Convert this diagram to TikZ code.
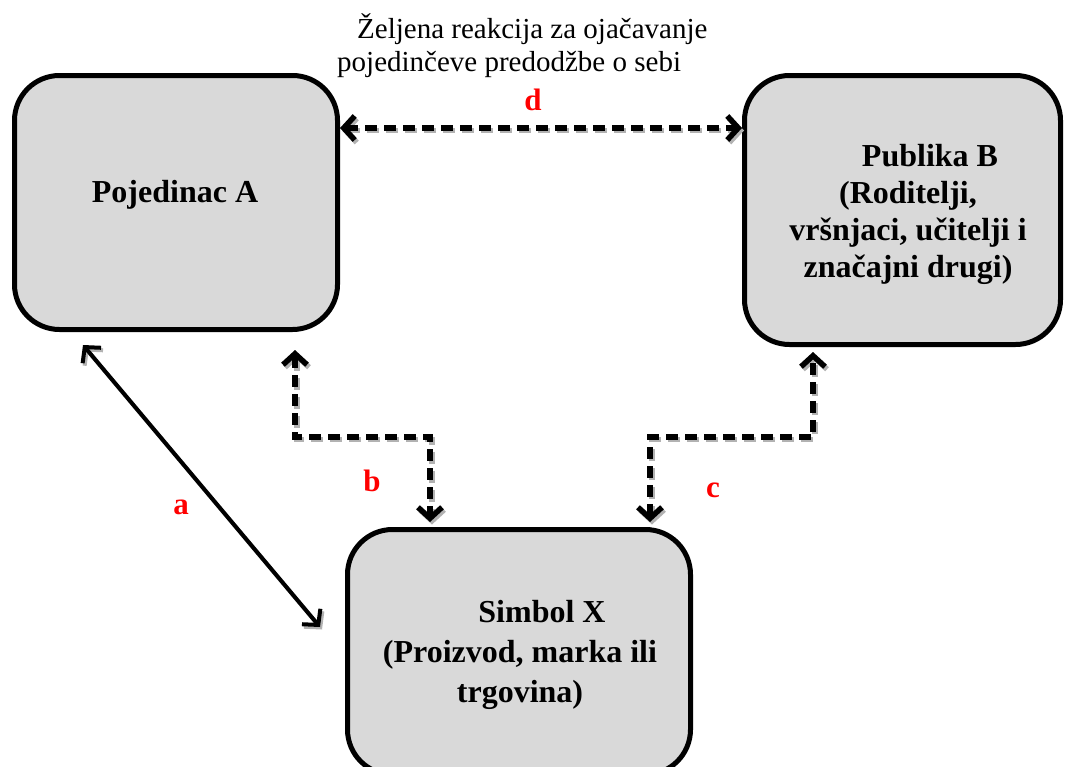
\documentclass[tikz,border=0pt]{standalone}
\usepackage{fontspec}
\setmainfont{Liberation Serif}
\usetikzlibrary{arrows.meta}
\definecolor{boxgray}{HTML}{D9D9D9}
\definecolor{lblred}{HTML}{FF0000}
\begin{document}
\begin{tikzpicture}[x=1pt,y=-1pt,
  box/.style={draw=black, line width=5pt, fill=boxgray, rounded corners=45pt, inner sep=0pt},
  boxtext/.style={font=\fontsize{32}{37}\selectfont\bfseries, align=center, inner sep=0pt},
  lbl/.style={text=lblred, font=\fontsize{31}{31}\selectfont\bfseries, inner sep=0pt},
  toptext/.style={font=\fontsize{29}{33}\selectfont, inner sep=0pt, anchor=base west},
  conn/.style={line width=4.5pt, {Straight Barb[length=11pt,width=24pt]}-{Straight Barb[length=11pt,width=24pt]}},
  dconn/.style={conn, line width=5.5pt, dash pattern=on 12pt off 7pt},
  dshort/.style={shorten <=18pt, shorten >=5pt},
  cshort/.style={shorten <=5pt, shorten >=5pt}
]
\useasboundingbox (0,0) rectangle (1065,766);
\clip (0,0) rectangle (1065,766);
\fill[white] (0,0) rectangle (1065,766);

% boxes
\node[box, minimum width=323pt, minimum height=254pt] (A) at (176,202.5) {};
\node[box, minimum width=316pt, minimum height=269pt] (B) at (902.5,210) {};
\node[box, minimum width=343pt, minimum height=245pt] (X) at (519,652) {};

% box texts
\node[boxtext] (At) at (175,195) {Pojedinac A};
\node[boxtext] (Bt) at (908,214) {\hspace*{44pt}Publika B\\(Roditelji,\\vršnjaci, učitelji i\\značajni drugi)};
\node[boxtext, font=\fontsize{32}{40}\selectfont\bfseries] (Xt) at (520,655) {\hspace*{44pt}Simbol X\\(Proizvod, marka ili\\trgovina)};

% top caption
\node[toptext] (cap1) at (357,38) {Željena reakcija za ojačavanje};
\node[toptext] (cap2) at (337,71) {pojedinčeve predodžbe o sebi};

% labels
\node[lbl] (ld) at (533,100) {d};
\node[lbl] (lb) at (372,481) {b};
\node[lbl] (lc) at (713,490) {c};
\node[lbl] (la) at (181,507) {a};

\coordinate (a1) at (83,345);
\coordinate (a2) at (320,627);

% connector shadows
\begin{scope}[transform canvas={shift={(2pt,-2.5pt)}}, draw=black!30]
\draw[dconn, draw=black!30] (A.east |- 0,128) -- (B.west |- 0,128);
\draw[dconn, dshort, draw=black!30] (A.south -| 295,0) |- (430,437) -- (X.north -| 430,0);
\draw[dconn, cshort, draw=black!30] (X.north -| 650,0) |- (813,437) -- (B.south -| 813,0);
\draw[conn, line width=4pt, draw=black!30] (a1) -- (a2);
\end{scope}

% connectors
\draw[dconn] (A.east |- 0,128) -- (B.west |- 0,128);
\draw[dconn, dshort] (A.south -| 295,0) |- (430,437) -- (X.north -| 430,0);
\draw[dconn, cshort] (X.north -| 650,0) |- (813,437) -- (B.south -| 813,0);
\draw[conn, line width=4pt] (a1) -- (a2);
\end{tikzpicture}
\end{document}
